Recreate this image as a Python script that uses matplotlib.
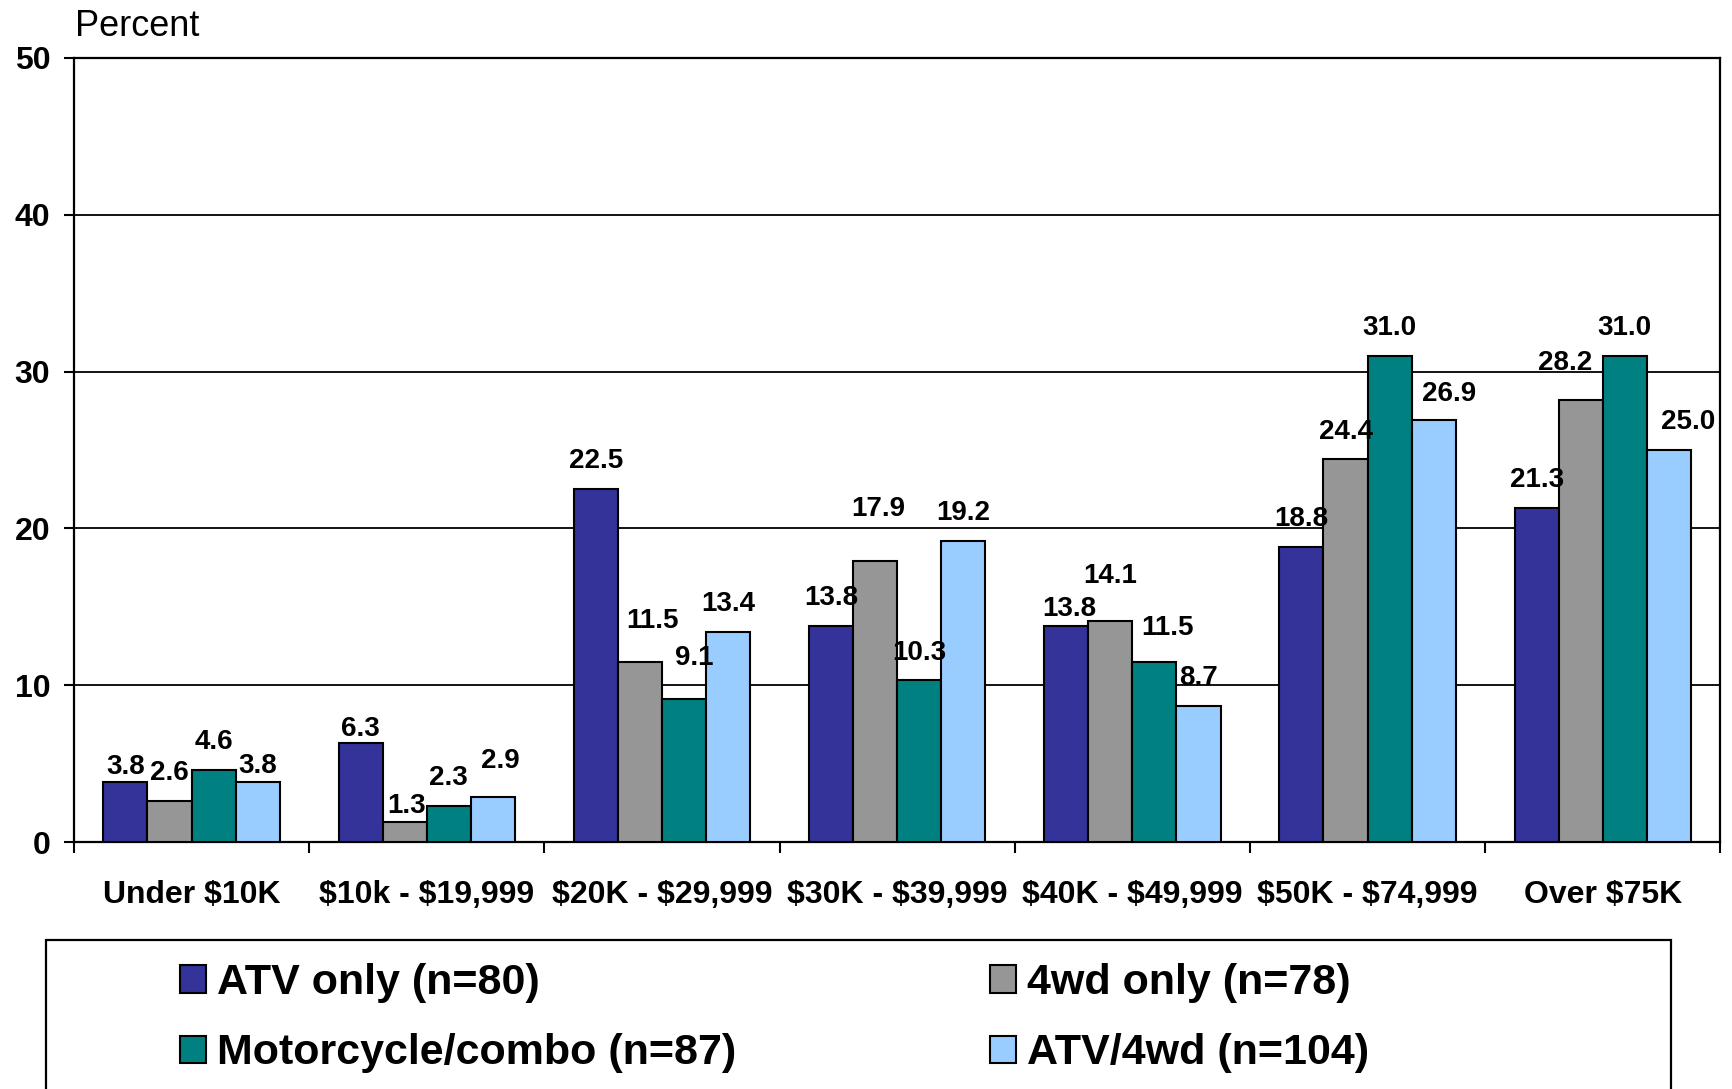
import matplotlib
matplotlib.use("Agg")
import numpy as np
import matplotlib.pyplot as plt
from matplotlib.patches import Rectangle

plt.rcParams['font.family'] = ['Liberation Sans', 'DejaVu Sans']
plt.rcParams['text.parse_math'] = False

categories = ["Under $10K", "$10k - $19,999", "$20K - $29,999", "$30K - $39,999",
              "$40K - $49,999", "$50K - $74,999", "Over $75K"]
atv_only = [3.8, 6.3, 22.5, 13.8, 13.8, 18.8, 21.3]
wd4_only = [2.6, 1.3, 11.5, 17.9, 14.1, 24.4, 28.2]
moto_combo = [4.6, 2.3, 9.1, 10.3, 11.5, 31.0, 31.0]
atv_4wd = [3.8, 2.9, 13.4, 19.2, 8.7, 26.9, 25.0]

series = [atv_only, wd4_only, moto_combo, atv_4wd]
labels = ["ATV only (n=80)", "4wd only (n=78)", "Motorcycle/combo (n=87)", "ATV/4wd (n=104)"]
colors = ["#333399", "#969696", "#008080", "#99CCFF"]

# hand nudges for value labels (points), like the original layout
nudge = {(0, 0): (0, -9), (3, 0): (0, -8), (0, 1): (0, -10), (1, 1): (1.5, -9),
         (3, 1): (5, 5.5), (1, 2): (9, 9.5), (2, 2): (7, 9.5), (1, 3): (2, 17.5),
         (0, 4): (2, -8), (1, 4): (0, 12), (2, 4): (9.5, 4), (3, 5): (11, -1.5),
         (1, 6): (-11, 6.5), (3, 6): (13.5, 0)}

fig = plt.figure(figsize=(17.33, 10.89), dpi=100)
ax = fig.add_axes([0.0427, 0.2268, 0.950, 0.7200])

x = np.arange(len(categories))
w = 0.1875
handles = []
for i, vals in enumerate(series):
    xs = x + (i - 1.5) * w
    b = ax.bar(xs, vals, w, color=colors[i], edgecolor="black", linewidth=1.5, zorder=3)
    handles.append(b)
    for j, v in enumerate(vals):
        dx, dy = nudge.get((i, j), (0, 0))
        ax.annotate(f"{v:.1f}", (xs[j], v), xytext=(dx, 20 + dy), textcoords="offset points",
                    ha="center", va="center", fontsize=20, fontweight="bold", zorder=5)

ax.set_xlim(-0.5, len(categories) - 0.5)
ax.set_ylim(0, 50)
ax.set_yticks([0, 10, 20, 30, 40, 50])
ax.yaxis.grid(True, color="black", linewidth=1.3, zorder=0)
ax.set_axisbelow(True)
ax.tick_params(axis="y", labelsize=23, length=7, width=1.5, pad=10)
for t in ax.get_yticklabels():
    t.set_fontweight("bold")

ax.set_xticks(np.arange(len(categories) + 1) - 0.5)
ax.set_xticklabels([])
ax.set_xticks(x, minor=True)
ax.set_xticklabels(categories, minor=True, fontsize=23, fontweight="bold")
ax.tick_params(axis="x", which="major", length=8, width=1.5)
ax.tick_params(axis="x", which="minor", length=0, pad=27)
for s in ax.spines.values():
    s.set_linewidth(1.6)
    s.set_color("black")

fig.text(75 / 1733, 1 - 27 / 1089, "Percent", fontsize=26, va="center", ha="left")

# legend frame, runs off the bottom of the picture
fig.patches.append(Rectangle((46 / 1733, -0.05), (1671 - 46) / 1733, 0.05 + (1089 - 940) / 1089,
                             transform=fig.transFigure, facecolor="none", edgecolor="black",
                             linewidth=1.6, clip_on=False))
order = [0, 2, 1, 3]
leg = fig.legend([handles[k] for k in order], [labels[k] for k in order], ncol=2,
                 loc="upper left", bbox_to_anchor=(163 / 1733, 1 - 946 / 1089),
                 frameon=False, prop={"size": 31, "weight": "bold"},
                 handlelength=0.6, handleheight=0.6, handletextpad=0.25,
                 columnspacing=5.9, labelspacing=0.7, borderaxespad=0)

fig.savefig("out.png", dpi=100)
